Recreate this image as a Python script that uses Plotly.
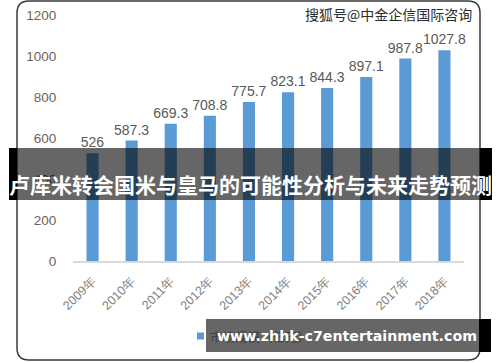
import plotly.graph_objects as go

years = ["2009年", "2010年", "2011年", "2012年", "2013年", "2014年", "2015年", "2016年", "2017年", "2018年"]
values = [526, 587.3, 669.3, 708.8, 775.7, 823.1, 844.3, 897.1, 987.8, 1027.8]
value_labels = ["526", "587.3", "669.3", "708.8", "775.7", "823.1", "844.3", "897.1", "987.8", "1027.8"]
y_ticks = [0, 200, 400, 600, 800, 1000, 1200]
series_name = "市场规模（亿元）"
title_text = "卢库米转会国米与皇马的可能性分析与未来走势预测"
watermark_text = "搜狐号@中金企信国际咨询"
url_text = "www.zhhk-c7entertainment.com"

W, H = 500, 362
L, R, T, B = 73, 464, 15, 261
PW, PH = R - L, B - T


def X(px):
    return (px - L) / PW


def Y(py):
    return (B - py) / PH


fig = go.Figure()
fig.add_trace(go.Bar(
    x=years, y=values, text=value_labels, textposition="outside", constraintext="none",
    textfont=dict(family="Liberation Sans, Arial", size=14, color="#595959"),
    marker=dict(color="#5b9bd5", line=dict(width=0)),
    cliponaxis=False, name=series_name, showlegend=False, hoverinfo="skip",
))

# rounded frame
x0, x1, y0, y1, r = 17, 480, 1, 360, 12
rx, ry = r, r
path = (f"M{X(x0+rx)},{Y(y0)} L{X(x1-rx)},{Y(y0)} Q{X(x1)},{Y(y0)} {X(x1)},{Y(y0+ry)} "
        f"L{X(x1)},{Y(y1-ry)} Q{X(x1)},{Y(y1)} {X(x1-rx)},{Y(y1)} "
        f"L{X(x0+rx)},{Y(y1)} Q{X(x0)},{Y(y1)} {X(x0)},{Y(y1-ry)} "
        f"L{X(x0)},{Y(y0+ry)} Q{X(x0)},{Y(y0)} {X(x0+rx)},{Y(y0)} Z")

shapes = [
    dict(type="path", xref="paper", yref="paper", path=path,
         line=dict(color="#3a3a3a", width=1.5), layer="below"),
    # legend square
    dict(type="rect", xref="paper", yref="paper", x0=X(197), x1=X(204), y0=Y(332.5), y1=Y(339.5),
         fillcolor="#5b9bd5", line=dict(width=0), layer="above"),
    # top banner
    dict(type="rect", xref="paper", yref="paper", x0=X(9), x1=X(17), y0=Y(148), y1=Y(200),
         fillcolor="black", line=dict(width=0), layer="above"),
    dict(type="rect", xref="paper", yref="paper", x0=X(480), x1=X(492), y0=Y(148), y1=Y(200),
         fillcolor="black", line=dict(width=0), layer="above"),
    dict(type="rect", xref="paper", yref="paper", x0=X(17), x1=X(480), y0=Y(148), y1=Y(200),
         fillcolor="rgba(0,0,0,0.6)", line=dict(width=0), layer="above"),
    # bottom banner
    dict(type="rect", xref="paper", yref="paper", x0=X(206), x1=X(479), y0=Y(319), y1=Y(352),
         fillcolor="rgba(0,0,0,0.6)", line=dict(width=0), layer="above"),
    dict(type="rect", xref="paper", yref="paper", x0=X(479), x1=X(491), y0=Y(319), y1=Y(352),
         fillcolor="black", line=dict(width=0), layer="above"),
]

annotations = [
    dict(text=series_name, xref="paper", yref="paper", x=X(208), y=Y(336), xanchor="left", yanchor="middle",
         showarrow=False, font=dict(family="Noto Sans CJK SC", size=12.5, color="#3d3d3d")),
    dict(text=watermark_text, xref="paper", yref="paper", x=X(388), y=Y(14), xanchor="center", yanchor="middle",
         showarrow=False, font=dict(family="Noto Sans CJK SC", size=14, color="#2b2b2b")),
    dict(text=f"<b>{title_text}</b>", xref="paper", yref="paper", x=X(250.5), y=Y(184), xanchor="center",
         yanchor="middle", showarrow=False, font=dict(family="Noto Sans CJK SC", size=21, color="white")),
    dict(text=f"<b>{url_text}</b>", xref="paper", yref="paper", x=X(346.5), y=Y(336), xanchor="center",
         yanchor="middle", showarrow=False, font=dict(family="DejaVu Sans", size=14.2, color="white")),
]

fig.update_layout(
    width=W, height=H,
    margin=dict(l=L, r=W - R, t=T, b=H - B, autoexpand=False),
    paper_bgcolor="white", plot_bgcolor="white",
    bargap=0.69, showlegend=False, hovermode=False,
    shapes=shapes, annotations=annotations,
    xaxis=dict(showgrid=False, showline=True, linecolor="#d9d9d9", linewidth=1.5,
               tickangle=-45, ticks="outside", ticklen=6, tickcolor="rgba(0,0,0,0)",
               tickfont=dict(family="Liberation Sans, Arial", size=12.5, color="#7f7f7f"),
               automargin=False, fixedrange=True),
    yaxis=dict(range=[0, 1200], tickvals=y_ticks, showgrid=False, zeroline=False, showline=False,
               ticks="outside", ticklen=13, tickcolor="rgba(0,0,0,0)",
               tickfont=dict(family="Liberation Sans, Arial", size=13.5, color="#6f6258"),
               automargin=False, fixedrange=True),
)

fig.write_html("out.html", config={"displayModeBar": False},
               post_script="document.body.style.margin='0';document.body.style.padding='0';")
